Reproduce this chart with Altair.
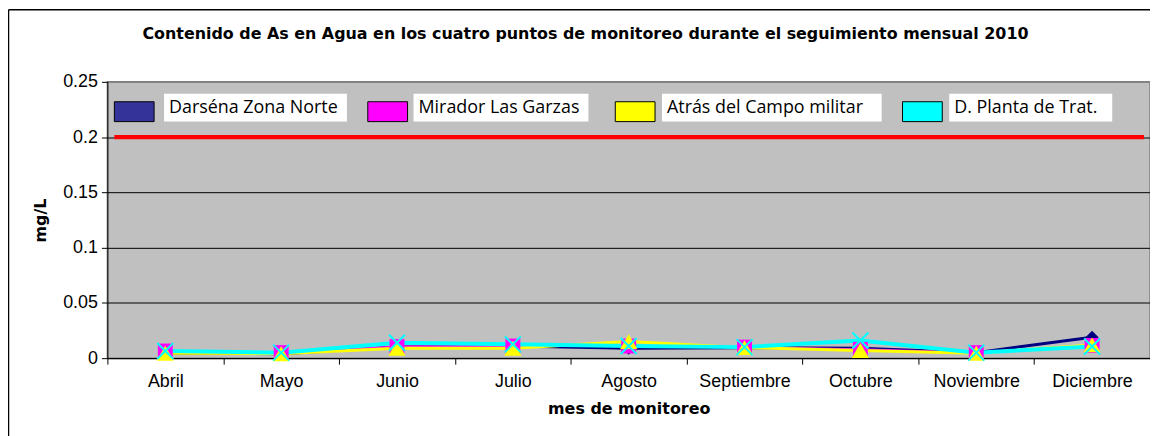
import altair as alt
import pandas as pd

meses = ["Abril", "Mayo", "Junio", "Julio", "Agosto", "Septiembre", "Octubre", "Noviembre", "Diciembre"]
series = ["Darséna Zona Norte", "Mirador Las Garzas", "Atrás del Campo militar", "D. Planta de Trat."]
darsena = [0.0045, 0.004, 0.010, 0.011, 0.009, 0.0095, 0.009, 0.005, 0.019]
mirador = [0.0065, 0.005, 0.0105, 0.011, 0.011, 0.010, 0.008, 0.005, 0.0115]
atras = [0.0045, 0.004, 0.009, 0.009, 0.015, 0.0095, 0.007, 0.0045, 0.012]
planta = [0.0065, 0.005, 0.014, 0.0125, 0.011, 0.010, 0.016, 0.005, 0.0105]
limite = 0.2
y_ticks = [0, 0.05, 0.1, 0.15, 0.2, 0.25]
titulo = "Contenido de As en Agua en los cuatro puntos de monitoreo durante el seguimiento mensual 2010"

valores = [darsena, mirador, atras, planta]
line_colors = ["#000080", "#FF00FF", "#FFFF00", "#00FFFF"]
swatch_colors = ["#333399", "#FF00FF", "#FFFF00", "#00FFFF"]
shapes = ["diamond", "square", "triangle-up", "M-1,-1L1,1M-1,1L1,-1"]
sizes = [170, 225, 300, 260]
filled = [True, True, True, False]
line_widths = [3, 2, 3, 4]

W, H = 1049, 278
FONT = "Liberation Sans"
BFONT = "DejaVu Sans"
LFONT = "Open Sans"

x_enc = alt.X(
    "mes:N", sort=meses,
    scale=alt.Scale(type="band", domain=meses, paddingInner=0, paddingOuter=0),
    bandPosition=0.5,
    axis=alt.Axis(
        title="mes de monitoreo", grid=False, tickBand="extent", tickSize=6,
        tickColor="black", domainColor="black", domainWidth=1, labelAngle=0,
        labelFont=FONT, labelFontSize=18, labelColor="black", labelPadding=9,
        titleFont=BFONT, titleFontSize=16, titleFontWeight="bold", titleColor="black",
        titleY=51, titleBaseline="middle",
    ),
)
y_axis = alt.Axis(
    values=y_ticks, format="~g", title="mg/L", tickSize=6, tickColor="black",
    domainColor="black", domainWidth=1, labelFont=FONT, labelFontSize=18,
    labelColor="black", labelPadding=4,
    grid=True, gridWidth=1,
    gridColor={"condition": {"test": "datum.value >= 0.24", "value": "#808080"}, "value": "#000000"},
    titleFont=BFONT, titleFontSize=16, titleFontWeight="bold", titleColor="black",
    titleX=-67, titleY=139, titleBaseline="middle",
)
y_scale = alt.Scale(domain=[0, 0.25], nice=False, zero=True)
y_enc = alt.Y("valor:Q", scale=y_scale, axis=y_axis)

frames = []
for name, vals in zip(series, valores):
    frames.append(pd.DataFrame({"mes": meses, "serie": name, "valor": vals}))

one = pd.DataFrame({"k": [0]})

layers = []
# red limit line
layers.append(
    alt.Chart(one).mark_rule(color="#FF0000", strokeWidth=4.5).encode(
        y=alt.Y(datum=limite, scale=y_scale, axis=y_axis),
        x=alt.value(7), x2=alt.value(W - 6),
    )
)
for i in range(4):
    layers.append(
        alt.Chart(frames[i]).mark_line(color=line_colors[i], strokeWidth=line_widths[i]).encode(
            x=x_enc, y=y_enc
        )
    )
for i in range(4):
    if filled[i]:
        m = alt.Chart(frames[i]).mark_point(
            shape=shapes[i], size=sizes[i], filled=True, fill=line_colors[i],
            opacity=1, strokeWidth=0)
    else:
        m = alt.Chart(frames[i]).mark_point(
            shape=shapes[i], size=sizes[i], filled=False, stroke=line_colors[i],
            opacity=1, strokeWidth=2)
    layers.append(m.encode(x=x_enc, y=y_enc))

# custom legend inside plot
swatch_x = [7, 262, 511, 800]
box_x = [57, 308, 558, 847]
box_x2 = [241, 484, 779, 1011]
for i in range(4):
    layers.append(
        alt.Chart(one).mark_rect(fill="white").encode(
            x=alt.value(box_x[i]), x2=alt.value(box_x2[i]), y=alt.value(12), y2=alt.value(40)
        )
    )
    layers.append(
        alt.Chart(one).mark_rect(fill=swatch_colors[i], stroke="black", strokeWidth=1).encode(
            x=alt.value(swatch_x[i]), x2=alt.value(swatch_x[i] + 40), y=alt.value(20), y2=alt.value(40)
        )
    )
    layers.append(
        alt.Chart(pd.DataFrame({"t": [series[i]]})).mark_text(
            font=LFONT, fontSize=18, color="black", align="left", baseline="middle"
        ).encode(x=alt.value(box_x[i] + 5), y=alt.value(26), text="t:N")
    )

# title and outer frame
layers.append(
    alt.Chart(pd.DataFrame({"t": [titulo]})).mark_text(
        font=BFONT, fontSize=16, fontWeight="bold", color="black", align="center", baseline="middle"
    ).encode(x=alt.value(481), y=alt.value(-48), text="t:N")
)
layers.append(
    alt.Chart(one).mark_rule(color="black", strokeWidth=1.5).encode(
        x=alt.value(-99.5), y=alt.value(-72.5), y2=alt.value(420)
    )
)
layers.append(
    alt.Chart(one).mark_rule(color="black", strokeWidth=1.5).encode(
        x=alt.value(-99.5), x2=alt.value(W + 10), y=alt.value(-72.5)
    )
)

chart = alt.layer(*layers).properties(
    width=W, height=H,
    autosize=alt.AutoSizeParams(type="none"),
    padding={"left": 100, "top": 73, "right": 0, "bottom": 77},
    background="white",
).configure_view(fill="#C0C0C0", stroke="#808080", strokeWidth=1.5)

chart.save("out.html", embed_options={"renderer": "svg", "actions": False})
